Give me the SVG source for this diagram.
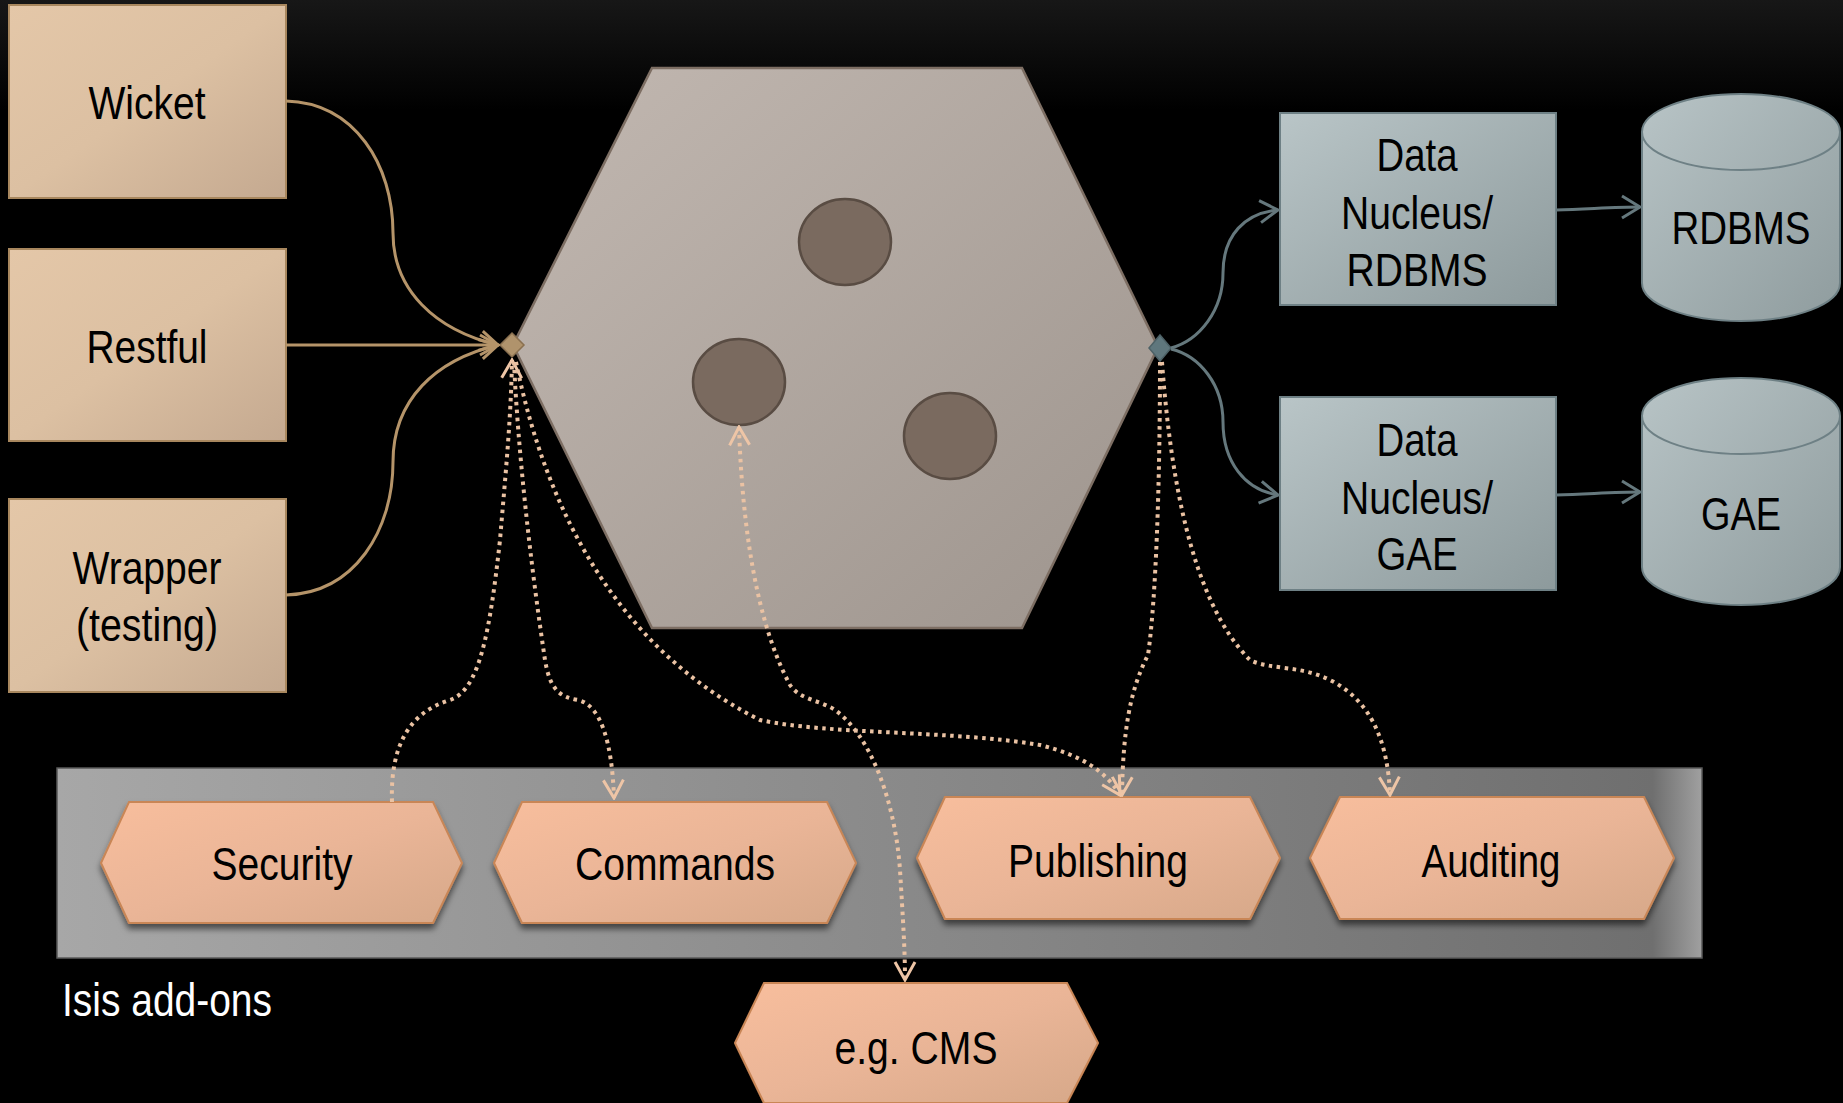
<svg xmlns="http://www.w3.org/2000/svg" width="1843" height="1103" viewBox="0 0 1843 1103">
<defs>
<linearGradient id="bg" x1="0" y1="0" x2="0" y2="1">
<stop offset="0" stop-color="#171717"/><stop offset="0.1" stop-color="#000"/><stop offset="1" stop-color="#000"/>
</linearGradient>
<linearGradient id="tan" x1="0" y1="0" x2="1" y2="1">
<stop offset="0" stop-color="#e4c7a8"/><stop offset="0.5" stop-color="#dcc0a2"/><stop offset="1" stop-color="#c4a990"/>
</linearGradient>
<linearGradient id="hexg" x1="0" y1="0" x2="1" y2="1">
<stop offset="0" stop-color="#c2b8b1"/><stop offset="1" stop-color="#9d948d"/>
</linearGradient>
<linearGradient id="slate" x1="0" y1="0" x2="1" y2="1">
<stop offset="0" stop-color="#b9c5c7"/><stop offset="1" stop-color="#8d9a9c"/>
</linearGradient>
<linearGradient id="cyl" x1="0" y1="0" x2="1" y2="1">
<stop offset="0" stop-color="#b8c4c6"/><stop offset="1" stop-color="#8f9c9e"/>
</linearGradient>
<linearGradient id="band" x1="0" y1="0" x2="1" y2="0">
<stop offset="0" stop-color="#a7a7a7"/><stop offset="0.97" stop-color="#6f6f6f"/><stop offset="1" stop-color="#a0a0a0"/>
</linearGradient>
<linearGradient id="peach" x1="0" y1="0" x2="1" y2="1">
<stop offset="0" stop-color="#f8be9d"/><stop offset="0.5" stop-color="#eab597"/><stop offset="1" stop-color="#d6a889"/>
</linearGradient>
<filter id="sh" x="-10%" y="-10%" width="120%" height="130%">
<feDropShadow dx="0" dy="5" stdDeviation="3" flood-color="#000" flood-opacity="0.55"/>
</filter>
<marker id="aTan" viewBox="0 0 22 24" refX="20" refY="12" markerWidth="22" markerHeight="24" markerUnits="userSpaceOnUse" orient="auto">
<path d="M2,2 L20,12 L2,22" fill="none" stroke="#b59469" stroke-width="3"/>
</marker>
<marker id="aSlate" viewBox="0 0 22 26" refX="20" refY="13" markerWidth="22" markerHeight="26" markerUnits="userSpaceOnUse" orient="auto">
<path d="M2,2 L20,13 L2,24" fill="none" stroke="#65787d" stroke-width="3"/>
</marker>
<marker id="aPeach" viewBox="0 0 22 24" refX="20" refY="12" markerWidth="22" markerHeight="24" markerUnits="userSpaceOnUse" orient="auto-start-reverse">
<path d="M2,2 L20,12 L2,22" fill="none" stroke="#eec5a6" stroke-width="3"/>
</marker>
</defs>
<style>
.lbl{font-family:"Liberation Sans",Arial,sans-serif;font-size:47px;fill:#000;text-anchor:middle}
.box{fill:url(#tan);stroke:#a8875e;stroke-width:2}
.dn{fill:url(#slate);stroke:#6e8085;stroke-width:2}
.cy{fill:url(#cyl);stroke:#6e8085;stroke-width:2}
.hx{fill:url(#peach);stroke:#c98656;stroke-width:2;filter:url(#sh)}
.tanl{fill:none;stroke:#b59469;stroke-width:3}
.slatel{fill:none;stroke:#65787d;stroke-width:3}
.dot{fill:none;stroke:#eac2a3;stroke-width:4;stroke-dasharray:3.5 4.5}
</style>
<rect width="1843" height="1103" fill="url(#bg)"/>

<g id="band-addons">
<rect x="57" y="768" width="1645" height="190" fill="url(#band)" stroke="#5a5a5a" stroke-width="1.5"/>
<text x="62" y="1016" textLength="210" lengthAdjust="spacingAndGlyphs" style="font-family:'Liberation Sans',Arial,sans-serif;font-size:47px;fill:#fff">Isis add-ons</text>
</g>

<g id="wicket"><rect class="box" x="9" y="5" width="277" height="193"/><text class="lbl" x="147" y="119" textLength="117" lengthAdjust="spacingAndGlyphs">Wicket</text></g>
<g id="restful"><rect class="box" x="9" y="249" width="277" height="192"/><text class="lbl" x="147" y="363" textLength="121" lengthAdjust="spacingAndGlyphs">Restful</text></g>
<g id="wrapper"><rect class="box" x="9" y="499" width="277" height="193"/><text class="lbl" x="147" y="584" textLength="149" lengthAdjust="spacingAndGlyphs">Wrapper</text><text class="lbl" x="147" y="641" textLength="142" lengthAdjust="spacingAndGlyphs">(testing)</text></g>

<g id="core">
<polygon points="652,68 1022,68 1158,347 1022,628 652,628 513,345" fill="url(#hexg)" stroke="#7d6e63" stroke-width="2.5"/>
<ellipse cx="845" cy="242" rx="46" ry="43" fill="#7a6a5f" stroke="#594c43" stroke-width="2.5"/>
<ellipse cx="739" cy="382" rx="46" ry="43" fill="#7a6a5f" stroke="#594c43" stroke-width="2.5"/>
<ellipse cx="950" cy="436" rx="46" ry="43" fill="#7a6a5f" stroke="#594c43" stroke-width="2.5"/>
<polygon points="512,333 524,345 512,357 500,345" fill="#b0936c" stroke="#8a7050" stroke-width="1.5"/>
<polygon points="1160,335 1171,348 1160,361 1149,348" fill="#5f777d" stroke="#4d6166" stroke-width="1.5"/>
</g>

<g id="dn-rdbms"><rect class="dn" x="1280" y="113" width="276" height="192"/><text class="lbl" x="1417" y="171" textLength="81" lengthAdjust="spacingAndGlyphs">Data</text><text class="lbl" x="1417" y="229" textLength="152" lengthAdjust="spacingAndGlyphs">Nucleus/</text><text class="lbl" x="1417" y="286" textLength="141" lengthAdjust="spacingAndGlyphs">RDBMS</text></g>
<g id="dn-gae"><rect class="dn" x="1280" y="397" width="276" height="193"/><text class="lbl" x="1417" y="456" textLength="81" lengthAdjust="spacingAndGlyphs">Data</text><text class="lbl" x="1417" y="514" textLength="152" lengthAdjust="spacingAndGlyphs">Nucleus/</text><text class="lbl" x="1417" y="570" textLength="81" lengthAdjust="spacingAndGlyphs">GAE</text></g>

<g id="db-rdbms">
<path class="cy" d="M1642,132 A99,38 0 0 1 1840,132 L1840,283 A99,38 0 0 1 1642,283 Z"/>
<path d="M1642,132 A99,38 0 0 0 1840,132" fill="none" stroke="#6e8085" stroke-width="2"/>
<text class="lbl" x="1741" y="244" textLength="139" lengthAdjust="spacingAndGlyphs">RDBMS</text>
</g>
<g id="db-gae">
<path class="cy" d="M1642,416 A99,38 0 0 1 1840,416 L1840,567 A99,38 0 0 1 1642,567 Z"/>
<path d="M1642,416 A99,38 0 0 0 1840,416" fill="none" stroke="#6e8085" stroke-width="2"/>
<text class="lbl" x="1741" y="530" textLength="80" lengthAdjust="spacingAndGlyphs">GAE</text>
</g>

<g id="security"><polygon class="hx" points="101,863 129,802 433,802 462,863 433,923 129,923"/><text class="lbl" x="282" y="880" textLength="141" lengthAdjust="spacingAndGlyphs">Security</text></g>
<g id="commands"><polygon class="hx" points="494,863 522,802 827,802 856,863 827,923 522,923"/><text class="lbl" x="675" y="880" textLength="200" lengthAdjust="spacingAndGlyphs">Commands</text></g>
<g id="publishing"><polygon class="hx" points="917,858 945,797 1250,797 1280,858 1250,919 945,919"/><text class="lbl" x="1098" y="877" textLength="180" lengthAdjust="spacingAndGlyphs">Publishing</text></g>
<g id="auditing"><polygon class="hx" points="1310,858 1340,797 1644,797 1674,858 1644,919 1340,919"/><text class="lbl" x="1491" y="877" textLength="139" lengthAdjust="spacingAndGlyphs">Auditing</text></g>
<g id="cms"><polygon class="hx" points="735,1043 764,983 1067,983 1098,1043 1067,1103 764,1103"/><text class="lbl" x="916" y="1064" textLength="163" lengthAdjust="spacingAndGlyphs">e.g. CMS</text></g>

<g id="connectors">
<path class="tanl" d="M286,101 C355,103 393,165 393,233 C393,290 435,330 498,345" marker-end="url(#aTan)"/>
<path class="tanl" d="M286,345 L498,345" marker-end="url(#aTan)"/>
<path class="tanl" d="M286,595 C355,593 393,530 393,462 C393,400 435,360 498,345" marker-end="url(#aTan)"/>
<path class="slatel" d="M1171,348 C1200,340 1223,310 1223,273 C1223,235 1245,213 1278,210" marker-end="url(#aSlate)"/>
<path class="slatel" d="M1171,349 C1200,356 1223,385 1223,422 C1223,462 1245,490 1278,495" marker-end="url(#aSlate)"/>
<path class="slatel" d="M1556,210 C1590,209 1615,207 1640,207" marker-end="url(#aSlate)"/>
<path class="slatel" d="M1556,495 C1590,494 1615,492 1640,492" marker-end="url(#aSlate)"/>
<path class="dot" d="M392,802 C390,745 410,712 450,700 C480,690 490,630 500,540 C505,480 511,420 512,360" marker-end="url(#aPeach)"/>
<path class="dot" d="M514,362 C518,450 530,560 545,660 C550,690 560,697 578,700 C600,705 612,740 614,798" marker-end="url(#aPeach)"/>
<path class="dot" d="M516,362 C540,480 600,640 760,720 C830,735 950,730 1040,745 C1080,755 1105,770 1120,795" marker-end="url(#aPeach)"/>
<path class="dot" d="M1160,362 C1160,480 1156,600 1148,655 C1130,690 1123,730 1122,795" marker-end="url(#aPeach)"/>
<path class="dot" d="M1162,362 C1170,470 1190,600 1250,660 C1270,670 1300,665 1330,680 C1370,700 1388,740 1390,795" marker-end="url(#aPeach)"/>
<path class="dot" d="M739,427 C742,520 755,620 790,685 C800,700 820,700 835,710 C870,735 895,800 900,870 C903,920 905,950 905,980" marker-start="url(#aPeach)" marker-end="url(#aPeach)"/>
</g>
</svg>
